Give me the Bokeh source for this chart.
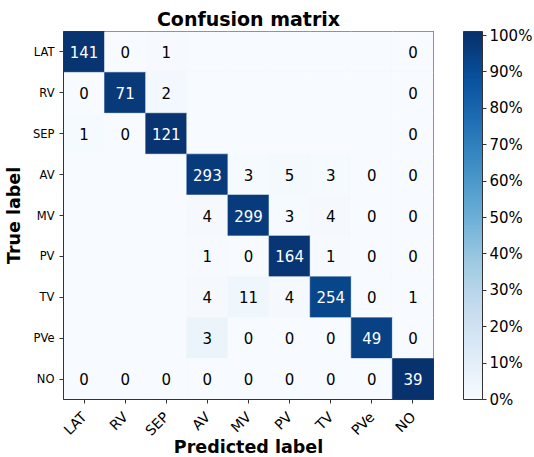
from math import pi
from bokeh.plotting import figure
from bokeh.layouts import column
from bokeh.models import (ColumnDataSource, LinearColorMapper, ColorBar, FixedTicker,
                          PrintfTickFormatter, Spacer)
from bokeh.palettes import Blues256
from bokeh.embed import file_html
from bokeh.resources import INLINE
from bokeh.core.properties import value

labels = ["LAT", "RV", "SEP", "AV", "MV", "PV", "TV", "PVe", "NO"]

# counts per true label (None = cell left blank in the original)
row_LAT = [141, 0, 1, None, None, None, None, None, 0]
row_RV = [0, 71, 2, None, None, None, None, None, 0]
row_SEP = [1, 0, 121, None, None, None, None, None, 0]
row_AV = [None, None, None, 293, 3, 5, 3, 0, 0]
row_MV = [None, None, None, 4, 299, 3, 4, 0, 0]
row_PV = [None, None, None, 1, 0, 164, 1, 0, 0]
row_TV = [None, None, None, 4, 11, 4, 254, 0, 1]
row_PVe = [None, None, None, 3, 0, 0, 0, 49, 0]
row_NO = [0, 0, 0, 0, 0, 0, 0, 0, 39]

rows = [row_LAT, row_RV, row_SEP, row_AV, row_MV, row_PV, row_TV, row_PVe, row_NO]

cb_ticks = [0, 10, 20, 30, 40, 50, 60, 70, 80, 90, 100]

xs, ys, pcts, txts, tcols = [], [], [], [], []
for tl, row in zip(labels, rows):
    tot = sum(v for v in row if v is not None)
    for pl, v in zip(labels, row):
        pct = 100.0 * v / tot if v else 0.0
        xs.append(pl)
        ys.append(tl)
        pcts.append(pct)
        txts.append("" if v is None else str(v))
        tcols.append("white" if pct > 50 else "black")

src = ColumnDataSource(dict(x=xs, y=ys, pct=pcts, txt=txts, tcol=tcols))

palette = list(reversed(Blues256))
mapper = LinearColorMapper(palette=palette, low=0, high=101.1)

FONT = "DejaVu Sans"

p = figure(x_range=labels, y_range=list(reversed(labels)),
           frame_width=370, frame_height=368, output_backend="svg", toolbar_location=None,
           min_border_left=54, min_border_right=60, min_border_top=10, min_border_bottom=10,
           title="Confusion matrix")
p.title.align = "center"
p.title.text_font = FONT
p.title.text_font_size = "19px"
p.title.text_font_style = "bold"
p.title.text_color = "black"
p.title.offset = 0
p.title.standoff = 3

p.rect(x="x", y="y", width=1, height=1, source=src,
       fill_color={"field": "pct", "transform": mapper},
       line_color={"field": "pct", "transform": mapper}, line_width=0.6)

p.text(x="x", y="y", text="txt", source=src, text_color="tcol",
       text_align="center", text_baseline="middle",
       text_font=value(FONT), text_font_size="15px")

p.grid.visible = False
p.outline_line_color = "#333333"
p.outline_line_width = 1

for ax in (p.xaxis[0], p.yaxis[0]):
    ax.axis_line_color = "#333333"
    ax.major_tick_line_color = "#333333"
    ax.major_tick_in = 0
    ax.major_tick_out = 4
    ax.minor_tick_line_color = None
    ax.major_label_text_font = FONT
    ax.axis_label_text_font = FONT
    ax.axis_label_text_font_style = "bold"
    ax.axis_label_text_font_size = "17.5px"
    ax.axis_label_text_color = "black"
    ax.major_label_text_color = "black"

p.xaxis.axis_label = "Predicted label"
p.xaxis.major_label_orientation = pi / 4
p.xaxis.major_label_text_font_size = "14px"
p.xaxis.major_label_standoff = 11
p.xaxis.axis_label_standoff = -10
p.yaxis.axis_label = "True label"
p.yaxis.major_label_text_font_size = "11.5px"
p.yaxis.axis_label_standoff = 6

cb = ColorBar(color_mapper=mapper, width=19, height=368, padding=0, margin=0,
              ticker=FixedTicker(ticks=cb_ticks),
              formatter=PrintfTickFormatter(format="%d%%"),
              major_label_text_font=FONT, major_label_text_font_size="15px",
              major_label_text_color="black",
              major_tick_in=0, major_tick_out=4, major_tick_line_color="#333333",
              minor_tick_line_color=None, label_standoff=3,
              bar_line_color="#333333", bar_line_width=1,
              location=(30, 0))
p.add_layout(cb, "right")

layout = column(Spacer(width=10, height=4), p, spacing=0)

open("out.html", "w").write(file_html(layout, INLINE))
